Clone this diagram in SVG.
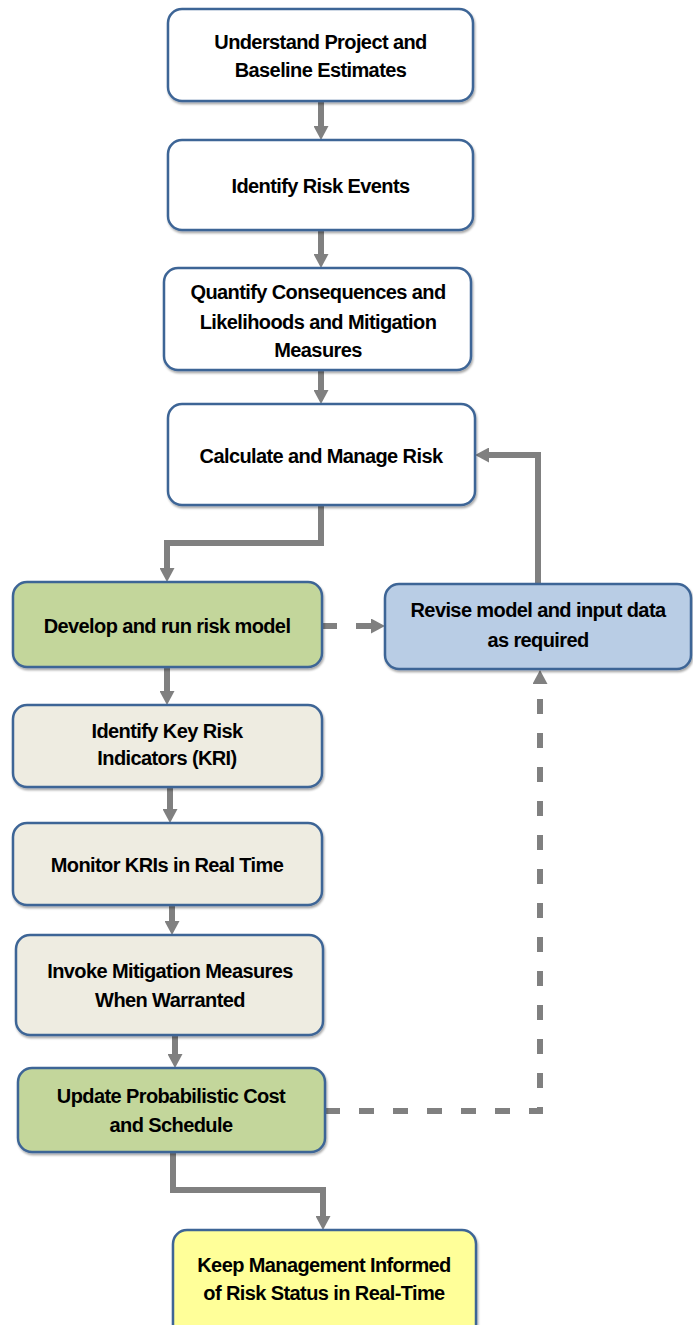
<svg xmlns="http://www.w3.org/2000/svg" width="693" height="1325" viewBox="0 0 693 1325">
<style>
.box{stroke:#3e6596;stroke-width:2.5;filter:url(#sh)}
.w{fill:#ffffff}.g{fill:#c3d69b}.b{fill:#b9cde5}.e{fill:#eeece1}.y{fill:#ffff99}
.t{font-family:"Liberation Sans",Arial,sans-serif;font-weight:bold;font-size:20px;letter-spacing:-0.6px;fill:#000;text-anchor:middle}
.c{fill:none;stroke:#808080;stroke-width:6;marker-end:url(#ah)}
.d{stroke-dasharray:15,19}
</style>
<defs>
<filter id="sh" x="-5%" y="-10%" width="110%" height="125%"><feDropShadow dx="1" dy="2" stdDeviation="1.2" flood-color="#000" flood-opacity="0.35"/></filter>
<marker id="ah" markerUnits="userSpaceOnUse" markerWidth="14" markerHeight="15" viewBox="0 0 14 15" refX="2" refY="7.5" orient="auto"><path d="M0,0 L14,7.5 L0,15 Z" fill="#808080"/></marker>
</defs>
<g id="connectors">
<path class="c" d="M321,101 V128"/>
<path class="c" d="M321,230 V256"/>
<path class="c" d="M321,370 V392"/>
<path class="c" d="M321,505 V543 H167 V570"/>
<path class="c d" d="M322,626 H373"/>
<path class="c" d="M538,584 V455 H487"/>
<path class="c" d="M167,667 V693"/>
<path class="c" d="M170,787 V811"/>
<path class="c" d="M172,905 V923"/>
<path class="c" d="M175,1035 V1056"/>
<path class="c d" d="M325,1111 H540 V682"/>
<path class="c" d="M173,1152 V1190 H323 V1218"/>
</g>
<g id="n1"><rect class="box w" x="168" y="9" width="305" height="92" rx="14"/><text class="t" x="320.5" y="49">Understand Project and</text><text class="t" x="320.5" y="77">Baseline Estimates</text></g>
<g id="n2"><rect class="box w" x="168" y="140" width="305" height="90" rx="14"/><text class="t" x="320.5" y="193">Identify Risk Events</text></g>
<g id="n3"><rect class="box w" x="164" y="268" width="307" height="102" rx="14"/><text class="t" x="318" y="299">Quantify Consequences and</text><text class="t" x="318" y="329">Likelihoods and Mitigation</text><text class="t" x="318" y="357">Measures</text></g>
<g id="n4"><rect class="box w" x="168" y="404" width="307" height="101" rx="14"/><text class="t" x="321" y="463">Calculate and Manage Risk</text></g>
<g id="n5"><rect class="box g" x="13" y="582" width="309" height="85" rx="14"/><text class="t" x="167" y="633">Develop and run risk model</text></g>
<g id="n6"><rect class="box b" x="385" y="584" width="306" height="85" rx="14"/><text class="t" x="538" y="617">Revise model and input data</text><text class="t" x="538" y="647">as required</text></g>
<g id="n7"><rect class="box e" x="13" y="705" width="309" height="82" rx="14"/><text class="t" x="167" y="738">Identify Key Risk</text><text class="t" x="167" y="765">Indicators (KRI)</text></g>
<g id="n8"><rect class="box e" x="13" y="823" width="309" height="82" rx="14"/><text class="t" x="167" y="872">Monitor KRIs in Real Time</text></g>
<g id="n9"><rect class="box e" x="16" y="935" width="307" height="100" rx="14"/><text class="t" x="170" y="978">Invoke Mitigation Measures</text><text class="t" x="170" y="1007">When Warranted</text></g>
<g id="n10"><rect class="box g" x="18" y="1068" width="307" height="84" rx="14"/><text class="t" x="171" y="1103">Update Probabilistic Cost</text><text class="t" x="171" y="1132">and Schedule</text></g>
<g id="n11"><rect class="box y" x="173" y="1230" width="303" height="110" rx="14"/><text class="t" x="324" y="1272">Keep Management Informed</text><text class="t" x="324" y="1300">of Risk Status in Real-Time</text></g>
</svg>
